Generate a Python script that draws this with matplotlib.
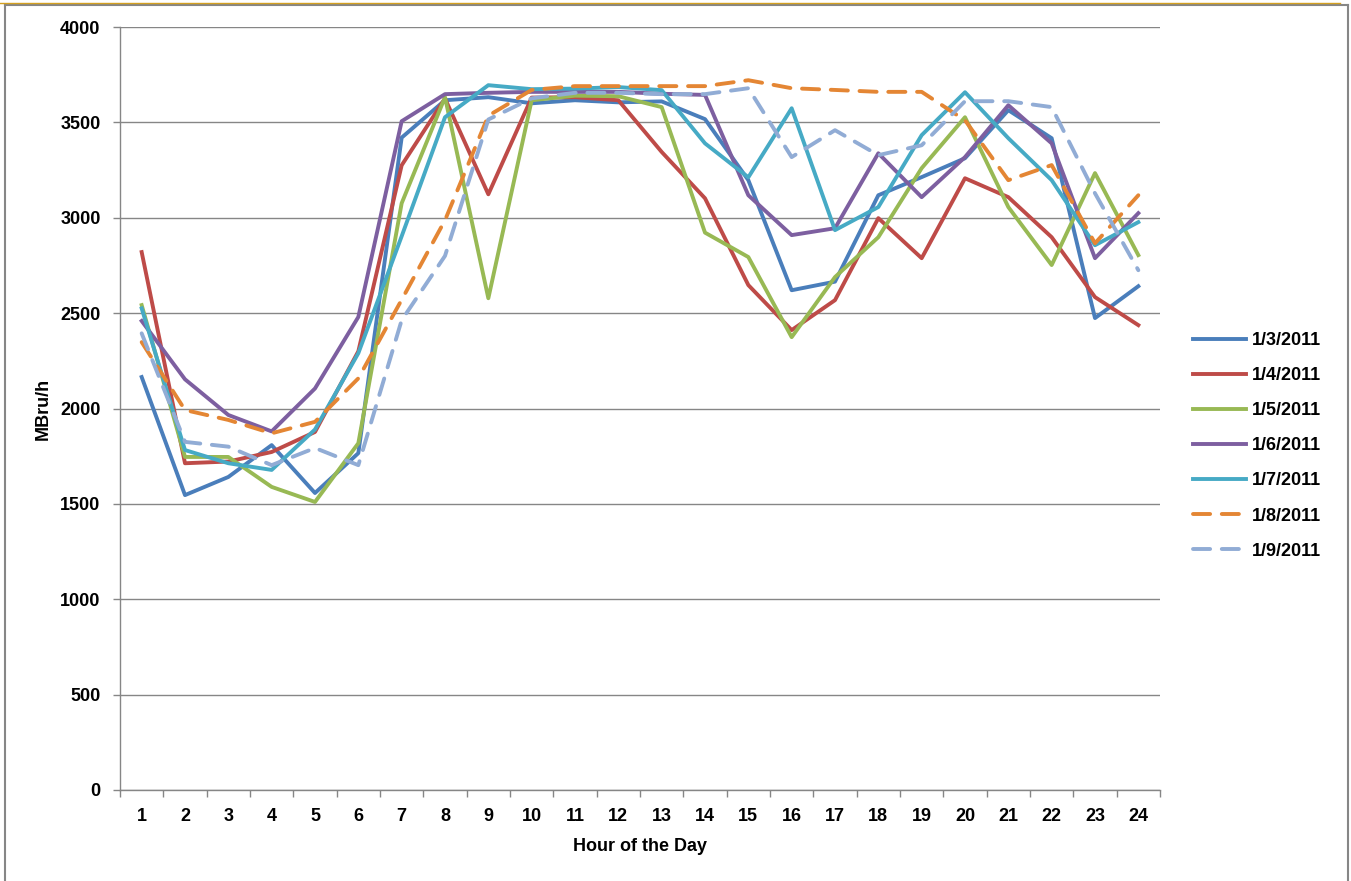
import matplotlib
matplotlib.use('Agg')
import matplotlib.pyplot as plt
from matplotlib.lines import Line2D
import numpy as np

hours = list(range(1, 25))

d0103 = [2165, 1546, 1641, 1808, 1557, 1766, 3420, 3616, 3632, 3600, 3616, 3605,
         3610, 3517, 3197, 2620, 2665, 3118, 3213, 3312, 3564, 3417, 2474, 2641]
d0104 = [2820, 1713, 1722, 1772, 1877, 2300, 3275, 3625, 3123, 3630, 3632, 3616,
         3345, 3102, 2647, 2411, 2568, 2998, 2788, 3207, 3108, 2898, 2584, 2437]
d0105 = [2542, 1746, 1746, 1589, 1510, 1818, 3076, 3632, 2578, 3616, 3640, 3637,
         3580, 2922, 2794, 2374, 2689, 2898, 3260, 3527, 3056, 2752, 3234, 2804]
d0106 = [2459, 2153, 1966, 1880, 2105, 2480, 3506, 3648, 3655, 3660, 3660, 3660,
         3650, 3644, 3118, 2909, 2945, 3338, 3108, 3318, 3590, 3390, 2788, 3024]
d0107 = [2525, 1782, 1713, 1678, 1890, 2290, 2903, 3527, 3695, 3674, 3677, 3685,
         3669, 3390, 3212, 3574, 2935, 3056, 3433, 3658, 3417, 3197, 2856, 2977]
d0108 = [2348, 1992, 1940, 1870, 1930, 2158, 2570, 2987, 3535, 3670, 3690, 3690,
         3690, 3690, 3721, 3679, 3670, 3660, 3660, 3511, 3197, 3276, 2866, 3118]
d0109 = [2394, 1825, 1800, 1703, 1793, 1703, 2463, 2800, 3515, 3626, 3655, 3655,
         3648, 3648, 3679, 3318, 3459, 3328, 3380, 3611, 3611, 3580, 3128, 2725]

labels = ['1/3/2011', '1/4/2011', '1/5/2011', '1/6/2011',
          '1/7/2011', '1/8/2011', '1/9/2011']
series = [d0103, d0104, d0105, d0106, d0107, d0108, d0109]
colors = ['#4A7EBB', '#BE4B48', '#98B954', '#7D5FA0', '#46AAC5', '#E48634', '#91ACD5']
dashed = [False, False, False, False, False, True, True]

plt.rcParams['font.family'] = ['Liberation Sans', 'DejaVu Sans']
plt.rcParams['font.weight'] = 'bold'
FS = 13
LW = 2.8

fig = plt.figure(figsize=(13.51, 8.81), dpi=100)
ax = fig.add_axes([120/1351, 91/881, 1040/1351, 763/881])

for y, c, lab, dsh in zip(series, colors, labels, dashed):
    if dsh:
        ax.plot(hours, y, color=c, lw=LW, label=lab, dashes=(4.4, 3.0),
                dash_capstyle='round', solid_joinstyle='round')
    else:
        ax.plot(hours, y, color=c, lw=LW, label=lab, solid_joinstyle='round')

ax.set_xlim(0.5, 24.5)
ax.set_ylim(0, 4000)
ax.set_yticks(np.arange(0, 4001, 500))
ax.set_xticks(hours)
ax.set_xticks(np.arange(0.5, 25, 1), minor=True)
ax.tick_params(axis='x', which='major', length=0, pad=13, labelsize=FS)
ax.tick_params(axis='x', which='minor', length=5, color='#868686', width=1)
ax.tick_params(axis='y', length=5, color='#868686', width=1, pad=9, labelsize=FS)
for t in ax.get_xticklabels() + ax.get_yticklabels():
    t.set_fontweight('bold')
ax.yaxis.grid(True, color='#868686', lw=1)
ax.set_axisbelow(True)
for s in ['top', 'right']:
    ax.spines[s].set_visible(False)
for s in ['left', 'bottom']:
    ax.spines[s].set_color('#868686')
    ax.spines[s].set_linewidth(1)

ax.set_xlabel('Hour of the Day', fontsize=FS, fontweight='bold', labelpad=9)
ax.set_ylabel('MBru/h', fontsize=FS, fontweight='bold')
ax.yaxis.set_label_coords(-68/1040, 0.5)

handles = []
for c, lab, dsh in zip(colors, labels, dashed):
    if dsh:
        handles.append(Line2D([], [], color=c, lw=LW, dashes=(4.4, 3.0),
                              dash_capstyle='round', label=lab))
    else:
        handles.append(Line2D([], [], color=c, lw=LW, label=lab))
fig.legend(handles=handles, loc='upper left', bbox_to_anchor=(1177/1351, 1 - 316/881),
           frameon=False, handlelength=2.9, handletextpad=0.35,
           labelspacing=1.0, prop={'weight': 'bold', 'size': FS})

# chart-area border
fig.add_artist(Line2D([5/1351, 5/1351], [0, 1 - 5/881], color='#868686', lw=1.5))
fig.add_artist(Line2D([5/1351, 1348/1351], [1 - 5/881, 1 - 5/881], color='#868686', lw=1.5))
fig.add_artist(Line2D([1348/1351, 1348/1351], [0, 1 - 5/881], color='#868686', lw=1.5))
fig.add_artist(Line2D([0, 1340/1351], [1 - 3/881, 1 - 3/881], color='#D4A020', lw=1))

plt.savefig('out.png', dpi=100)
